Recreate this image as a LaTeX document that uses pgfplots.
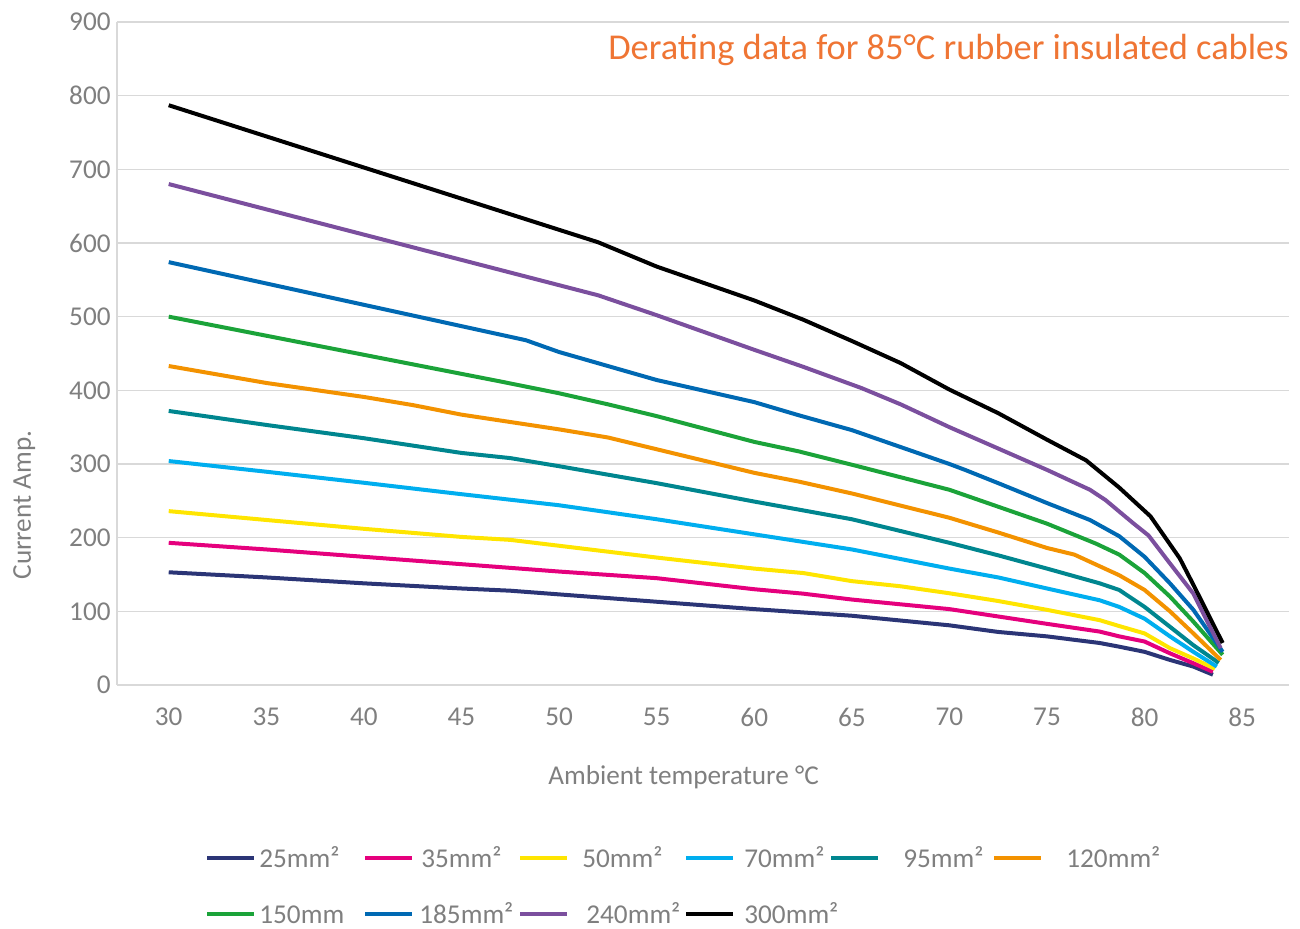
\documentclass[border=0pt]{standalone}
\usepackage{fontspec}
\setmainfont{Carlito}
\usepackage{pgfplots}
\pgfplotsset{compat=1.18}
\definecolor{textgray}{RGB}{127,127,127}
\definecolor{gridgray}{RGB}{217,217,217}
\definecolor{titleorange}{RGB}{239,117,52}
\definecolor{cA}{RGB}{43,53,118}
\definecolor{cB}{RGB}{229,0,125}
\definecolor{cC}{RGB}{255,229,0}
\definecolor{cD}{RGB}{0,174,239}
\definecolor{cE}{RGB}{0,134,143}
\definecolor{cF}{RGB}{243,146,0}
\definecolor{cG}{RGB}{27,163,57}
\definecolor{cH}{RGB}{0,105,179}
\definecolor{cI}{RGB}{123,79,158}
\definecolor{cJ}{RGB}{0,0,0}
\newcommand{\lt}[3]{\makebox[#1][l]{\hspace{#2}#3}}
\begin{document}
\begin{tikzpicture}
\useasboundingbox (-58.5pt,-122pt) rectangle (591.5pt,342.5pt);
\begin{axis}[
  name=main,
  scale only axis,
  clip=false,
  width=586pt, height=331.5pt,
  xmin=27.35, xmax=87.4,
  ymin=0, ymax=900,
  xtick={30,35,...,85},
  ytick={0,100,...,900},
  axis x line=bottom, axis y line=left,
  axis line style={draw=gridgray, line width=0.75pt, -},
  major tick length=0pt,
  ymajorgrids,
  grid style={draw=gridgray, line width=0.75pt},
  /pgf/number format/assume math mode=true,
  ticklabel style={font=\fontsize{13.6}{16}\selectfont, text=textgray},
  xticklabel style={anchor=north, inner sep=0pt, yshift=-11.2pt},
  yticklabel style={anchor=east, inner sep=0pt, xshift=-3pt},
  legend columns=6,
  legend cell align=left,
  legend image code/.code={\draw[#1, line width=2pt] (0pt,0pt) -- (23.5pt,0pt);},
  legend style={at={(axis description cs:0,0)}, anchor=north west,
    xshift=44pt, yshift=-80.1pt, draw=none, fill=none,
    inner xsep=0pt, inner ysep=0pt, row sep=15.2pt, column sep=0pt,
    font=\fontsize{13.6}{16}\selectfont, text=textgray,
    nodes={inner sep=2pt, text height=8.8pt, text depth=0pt}},
  every axis plot/.append style={line width=2pt, line join=round, mark=none},
]
\addplot[cA] coordinates {(30,153) (35,146) (40,138) (45,131) (47.5,128) (50,123) (55,113) (60,103) (65,94) (70,81) (72.5,72) (75,66) (77.7,57) (78.7,52) (80,45) (81.3,34) (82.5,25) (83.5,14)};
\addlegendentry{\lt{49.5pt}{-0.5pt}{25mm²}}
\addplot[cB] coordinates {(30,193) (35,184) (40,174) (45,164) (50,154) (55,145) (60,130) (62.5,124) (65,116) (70,103) (72.5,93) (75,83) (77.7,72.5) (78.7,66) (80,59) (81.3,43) (82.5,29.5) (83.5,18)};
\addlegendentry{\lt{48pt}{1.5pt}{35mm²}}
\addplot[cC] coordinates {(30,236) (35,224) (40,212) (45,201) (47.5,197) (50,189) (55,173) (60,158) (62.5,152) (65,141) (67.5,134) (70,124.5) (72.5,114) (75,102) (77.7,88) (78.7,80) (80,70) (81.3,50) (82.5,36) (83.6,22)};
\addlegendentry{\lt{53.5pt}{4.5pt}{50mm²}}
\addplot[cD] coordinates {(30,304) (35,289.5) (40,274.5) (45,259) (50,244) (55,225) (60,204.5) (65,184) (70,158) (72.5,146) (75,131) (77.7,115) (78.7,106) (80,90) (81.3,66) (82.5,45) (83.7,25)};
\addlegendentry{\lt{43pt}{2.5pt}{70mm²}}
\addplot[cE] coordinates {(30,372) (35,353) (40,335) (45,315) (47.5,308) (50,297) (55,274) (60,249) (62.3,238) (65,225) (70,193) (72.5,176) (75,158) (77.7,138) (78.7,129) (80,106) (81.3,79) (82.5,54) (83.8,30)};
\addlegendentry{\lt{52pt}{9.5pt}{95mm²}}
\addplot[cF] coordinates {(30,433) (35,410) (40,391) (42.5,380) (45,367) (47.5,357) (50,347) (52.5,336) (55,320) (60,288) (62.3,276) (65,260) (70,227) (72.5,207) (75,186) (76.4,177) (78.7,149) (80,129) (81.3,100) (82.5,70) (83.9,34)};
\addlegendentry{\lt{40pt}{9.5pt}{120mm²}}
\addplot[cG] coordinates {(30,500) (47,412) (50,396) (52.5,381) (55,365) (60,330) (62.3,317) (65,299) (67.5,282) (70,265) (72.5,242) (75,219) (77.5,192) (78.7,177) (80,152) (81.3,120) (82.5,86) (84,41)};
\addlegendentry{\lt{49.5pt}{-0.5pt}{150mm}}
\addplot[cH] coordinates {(30,574) (48.3,468) (50,452) (55,414) (60,384) (62.3,366) (65,346) (67.5,323) (70,300) (70.8,292) (72.5,274) (75,247) (77.2,224) (78.7,202) (80,174) (81.3,138) (82.5,102) (84,45)};
\addlegendentry{\lt{48pt}{0.5pt}{185mm²}}
\addplot[cI] coordinates {(30,680) (52,529) (55,502) (60,455) (62.5,432) (65.5,403) (67.5,381) (70,350) (72.5,321) (75,292) (77.2,265) (78,251) (79.4,220) (80.2,203) (81.3,165) (82.5,124) (83.9,50)};
\addlegendentry{\lt{53.5pt}{6.5pt}{240mm²}}
\addplot[cJ] coordinates {(30,787) (52,601) (55,568) (60,522) (62.5,496) (65,467) (67.5,437) (70,401) (72.5,369) (75,333) (77,305) (78.7,268) (80.3,229) (81.8,172) (82.5,136) (84,57)};
\addlegendentry{\lt{43pt}{2.5pt}{300mm²}}
\node[anchor=base east, inner sep=0pt, text=titleorange, font=\fontsize{18.2}{21}\selectfont] at (axis description cs:1,0.9427) {Derating data for 85°C rubber insulated cables};
\node[anchor=base, inner sep=0pt, text=textgray, font=\fontsize{13.6}{16}\selectfont] at (axis description cs:0.4834,-0.1508) {Ambient temperature °C};
\node[anchor=base, rotate=90, inner sep=0pt, text=textgray, font=\fontsize{13.6}{16}\selectfont] at (axis description cs:-0.0734,0.2715) {Current Amp.};
\end{axis}
\end{tikzpicture}
\end{document}
